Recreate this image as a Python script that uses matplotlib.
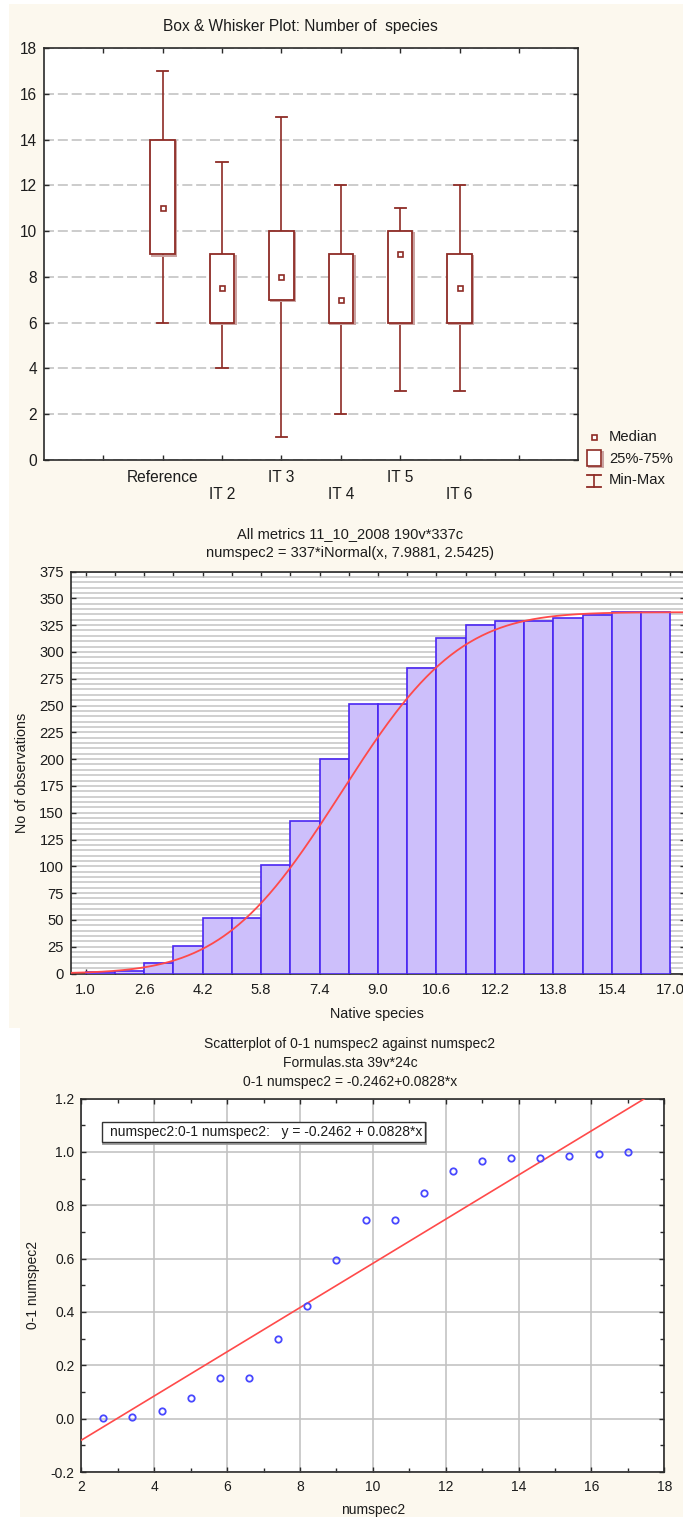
import math
import numpy as np
import matplotlib
matplotlib.use("Agg")
import matplotlib.pyplot as plt
from matplotlib.patches import Rectangle
from matplotlib.lines import Line2D
from matplotlib.transforms import Affine2D, ScaledTranslation
from matplotlib.ticker import FixedLocator, MultipleLocator, FormatStrFormatter

plt.rcParams['font.family'] = ['Liberation Sans', 'DejaVu Sans']
plt.rcParams['axes.unicode_minus'] = False

# ---------------- Box & whisker: number of species ----------------
groups = ["Reference", "IT 2", "IT 3", "IT 4", "IT 5", "IT 6"]
box_min = [6, 4, 1, 2, 3, 3]
box_q1 = [9, 6, 7, 6, 6, 6]
box_median = [11, 7.5, 8, 7, 9, 7.5]
box_q3 = [14, 9, 10, 9, 10, 9]
box_max = [17, 13, 15, 12, 11, 12]

# ---------------- Cumulative histogram of native species ----------------
bin_left = [1.0, 1.8, 2.6, 3.4, 4.2, 5.0, 5.8, 6.6, 7.4, 8.2,
            9.0, 9.8, 10.6, 11.4, 12.2, 13.0, 13.8, 14.6, 15.4, 16.2]
bin_width = 0.8
cum_counts = [1, 2, 10, 26, 52, 52, 101, 142, 200, 251,
              251, 285, 313, 325, 329, 329, 332, 334, 337, 337]
hist_ticks = [1.0, 2.6, 4.2, 5.8, 7.4, 9.0, 10.6, 12.2, 13.8, 15.4, 17.0]
fit_n = 337
fit_mean = 7.9881
fit_sd = 2.5425

# ---------------- Scatter: 0-1 numspec2 vs numspec2 ----------------
sc_x = [2.6, 3.4, 4.2, 5.0, 5.8, 6.6, 7.4, 8.2, 9.0, 9.8,
        10.6, 11.4, 12.2, 13.0, 13.8, 14.6, 15.4, 16.2, 17.0]
sc_y = [0.003, 0.006, 0.030, 0.077, 0.154, 0.154, 0.300, 0.421, 0.593, 0.745,
        0.745, 0.846, 0.929, 0.964, 0.976, 0.976, 0.985, 0.991, 1.000]
reg_a = -0.2462
reg_b = 0.0828

# ---------------- styling ----------------
CREAM = '#fcf8ee'
DARKRED = '#8e2b25'
SHADOW = '#c9a2a0'
LAVENDER = '#cdbffb'
BLUE = '#4a26f2'
RED = '#ff4a4a'
GRID = '#c3c3c3'
TXT = '#1c1c1c'
SPINE = '#2a2a2a'

W, H = 683, 1517
fig = plt.figure(figsize=(W / 100, H / 100), dpi=100)
fig.patch.set_facecolor('white')
px = Affine2D().scale(1.0 / W, -1.0 / H).translate(0, 1) + fig.transFigure


def axes_at(left, top, right, bottom):
    return fig.add_axes([left / W, 1 - bottom / H, (right - left) / W, (bottom - top) / H])


def style_axes(ax, size, xpad, ypad):
    for s in ax.spines.values():
        s.set_color(SPINE)
        s.set_linewidth(1.2)
    ax.tick_params(which='both', direction='in', top=True, right=True,
                   color=SPINE, width=1.0, labelcolor=TXT, labelsize=size)
    ax.tick_params(which='major', length=3.5)
    ax.tick_params(which='minor', length=3.0)
    ax.tick_params(axis='x', which='both', pad=xpad)
    ax.tick_params(axis='y', which='both', pad=ypad)


def ftext(x, y, s, size, **kw):
    kw.setdefault('ha', 'center')
    kw.setdefault('va', 'center')
    fig.text(x, y, s, transform=px, fontsize=size, color=TXT, **kw)


# panel backgrounds
fig.add_artist(Rectangle((9, 4), W - 9, 1024, transform=px, facecolor=CREAM,
                         edgecolor='none', zorder=-10))
fig.add_artist(Rectangle((20, 1028), W - 20, H - 1028, transform=px, facecolor=CREAM,
                         edgecolor='none', zorder=-10))

shadow_off = ScaledTranslation(1.6 / 100, -1.6 / 100, fig.dpi_scale_trans)

# ======================= box & whisker =======================
ax1 = axes_at(43.7, 48, 578.4, 460)
ax1.set_facecolor('white')
pos = np.arange(1, len(groups) + 1)
bw = 0.41
cap = 0.19
for p, mn, q1, md, q3, mx in zip(pos, box_min, box_q1, box_median, box_q3, box_max):
    ax1.plot([p, p], [mn, q1], color=DARKRED, lw=1.2, zorder=3, solid_capstyle='butt')
    ax1.plot([p, p], [q3, mx], color=DARKRED, lw=1.2, zorder=3, solid_capstyle='butt')
    ax1.plot([p - cap / 2, p + cap / 2], [mn, mn], color=DARKRED, lw=1.3, zorder=3)
    ax1.plot([p - cap / 2, p + cap / 2], [mx, mx], color=DARKRED, lw=1.3, zorder=3)
    ax1.add_patch(Rectangle((p - bw / 2, q1), bw, q3 - q1, facecolor='none',
                            edgecolor=SHADOW, lw=1.4, zorder=3.5,
                            transform=ax1.transData + shadow_off))
    ax1.add_patch(Rectangle((p - bw / 2, q1), bw, q3 - q1, facecolor='white',
                            edgecolor=DARKRED, lw=1.3, zorder=4))
    ax1.plot(p, md, marker='s', ms=3.6, mfc='white', mec=DARKRED, mew=1.2, zorder=5)

ax1.set_xlim(-1, 8)
ax1.set_ylim(0, 18)
ax1.set_xticks(np.arange(0, 8))
ax1.set_xticklabels([''] + [g if i % 2 == 0 else '\n' + g for i, g in enumerate(groups)] + [''],
                    linespacing=1.2)
ax1.set_yticks(np.arange(0, 19, 2))
ax1.grid(axis='y', color=GRID, lw=1.2, linestyle=(0, (6, 2.3)), zorder=1)
ax1.set_axisbelow(True)
style_axes(ax1, 11.2, 7, 5)

ftext(300, 26, 'Box & Whisker Plot: Number of  species', 11.2)

# legend
fig.add_artist(Line2D([593.5], [437], transform=px, marker='s', ms=3.6, mfc='white',
                      mec=DARKRED, mew=1.2, ls='none'))
fig.add_artist(Rectangle((587, 450), 14, 15.5, transform=px + shadow_off, facecolor='none',
                         edgecolor=SHADOW, lw=1.4))
fig.add_artist(Rectangle((587, 450), 14, 15.5, transform=px, facecolor='white',
                         edgecolor=DARKRED, lw=1.2))
fig.add_artist(Line2D([594, 594], [475, 487], transform=px, color=DARKRED, lw=1.2))
fig.add_artist(Line2D([587, 601], [475, 475], transform=px, color=DARKRED, lw=1.3))
fig.add_artist(Line2D([587, 601], [487, 487], transform=px, color=DARKRED, lw=1.3))
ftext(609, 437, 'Median', 10.6, ha='left')
ftext(609, 459, '25%-75%', 10.6, ha='left')
ftext(609, 480, 'Min-Max', 10.6, ha='left')

# ======================= cumulative histogram =======================
ax2 = axes_at(71, 571.5, 685, 973.5)
ax2.set_facecolor('white')
ax2.bar(bin_left, cum_counts, width=bin_width, align='edge', color=LAVENDER,
        edgecolor=BLUE, lw=1.2, zorder=3)
xs = np.linspace(0.6, 17.4, 400)
cdf = np.array([0.5 * (1 + math.erf((v - fit_mean) / (fit_sd * math.sqrt(2)))) for v in xs])
ax2.plot(xs, fit_n * cdf, color=RED, lw=1.3, zorder=4)
ax2.set_xlim(0.6, 17.4)
ax2.set_ylim(0, 375)
ax2.xaxis.set_major_locator(FixedLocator(hist_ticks))
ax2.xaxis.set_major_formatter(FormatStrFormatter('%.1f'))
edges = bin_left + [bin_left[-1] + bin_width]
ax2.xaxis.set_minor_locator(FixedLocator([e for e in edges if e not in hist_ticks]))
ax2.yaxis.set_major_locator(MultipleLocator(25))
ax2.yaxis.set_minor_locator(MultipleLocator(5))
ax2.grid(axis='y', which='both', color=GRID, lw=1.1, zorder=1)
ax2.set_axisbelow(True)
style_axes(ax2, 10.6, 7, 5)
ax2.tick_params(axis='y', which='minor', length=0)

ftext(350, 534, 'All metrics 11_10_2008 190v*337c', 10.5)
ftext(350, 553, 'numspec2 = 337*iNormal(x, 7.9881, 2.5425)', 10.5)
ftext(377, 1014.5, 'Native species', 10.4)
ftext(22, 773, 'No of observations', 10.4, rotation=90)

# ======================= scatterplot =======================
ax3 = axes_at(81.4, 1098.5, 664.2, 1472)
ax3.set_facecolor('white')
ax3.set_xlim(2, 18)
ax3.set_ylim(-0.2, 1.2)
ax3.xaxis.set_major_locator(MultipleLocator(2))
ax3.xaxis.set_minor_locator(MultipleLocator(1))
ax3.yaxis.set_major_locator(MultipleLocator(0.2))
ax3.yaxis.set_minor_locator(MultipleLocator(0.1))
ax3.yaxis.set_major_formatter(FormatStrFormatter('%.1f'))
ax3.grid(which='major', color=GRID, lw=1.2, zorder=1)
ax3.set_axisbelow(True)
rx = np.array([2.0, 18.0])
ax3.plot(rx, reg_a + reg_b * rx, color=RED, lw=1.2, zorder=3)
ax3.plot(sc_x, sc_y, ls='none', marker='o', ms=4.6, mfc='none', mec='#4848ff',
         mew=1.3, zorder=4)
style_axes(ax3, 10.0, 6, 5)

fig.add_artist(Rectangle((101.5, 1121.7), 323, 20.6, transform=px + shadow_off,
                         facecolor='none', edgecolor='#9a9a9a', lw=1.3))
fig.add_artist(Rectangle((101.5, 1121.7), 323, 20.6, transform=px, facecolor='white',
                         edgecolor='#333333', lw=1.0))
ftext(110, 1132.5, 'numspec2:0-1 numspec2:   y = -0.2462 + 0.0828*x', 10.0, ha='left')

ftext(350, 1044, 'Scatterplot of 0-1 numspec2 against numspec2', 10.0)
ftext(350, 1063, 'Formulas.sta 39v*24c', 10.0)
ftext(350, 1082, '0-1 numspec2 = -0.2462+0.0828*x', 10.0)
ftext(373, 1510, 'numspec2', 10.0)
ftext(32.7, 1285, '0-1 numspec2', 10.0, rotation=90)

fig.savefig('out.png', dpi=100, facecolor='white')
